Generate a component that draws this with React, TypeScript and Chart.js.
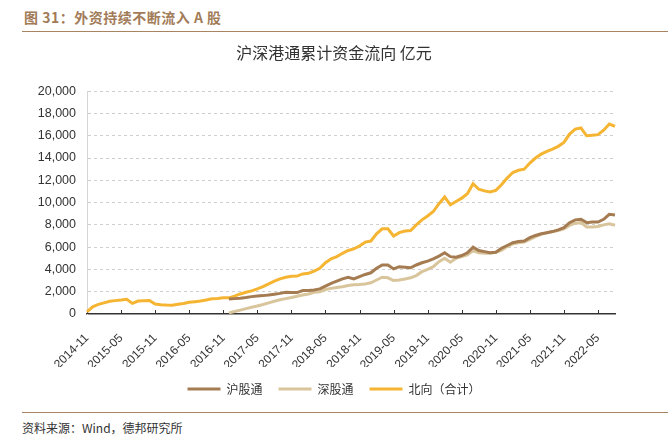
import { useEffect, useRef } from 'react';
import { Chart, registerables } from 'chart.js';

Chart.register(...registerables);

const CJK = "'Noto Sans CJK SC', 'Noto Sans', sans-serif";
const LAT = "'Liberation Sans', Arial, sans-serif";

const months = [
  '2014-11', '2014-12',
  '2015-01', '2015-02', '2015-03', '2015-04', '2015-05', '2015-06', '2015-07', '2015-08', '2015-09', '2015-10', '2015-11', '2015-12',
  '2016-01', '2016-02', '2016-03', '2016-04', '2016-05', '2016-06', '2016-07', '2016-08', '2016-09', '2016-10', '2016-11', '2016-12',
  '2017-01', '2017-02', '2017-03', '2017-04', '2017-05', '2017-06', '2017-07', '2017-08', '2017-09', '2017-10', '2017-11', '2017-12',
  '2018-01', '2018-02', '2018-03', '2018-04', '2018-05', '2018-06', '2018-07', '2018-08', '2018-09', '2018-10', '2018-11', '2018-12',
  '2019-01', '2019-02', '2019-03', '2019-04', '2019-05', '2019-06', '2019-07', '2019-08', '2019-09', '2019-10', '2019-11', '2019-12',
  '2020-01', '2020-02', '2020-03', '2020-04', '2020-05', '2020-06', '2020-07', '2020-08', '2020-09', '2020-10', '2020-11', '2020-12',
  '2021-01', '2021-02', '2021-03', '2021-04', '2021-05', '2021-06', '2021-07', '2021-08', '2021-09', '2021-10', '2021-11', '2021-12',
  '2022-01', '2022-02', '2022-03', '2022-04', '2022-05', '2022-06', '2022-07', '2022-08',
];

// 北向（合计）
const northbound = [
  200, 650,
  870, 1000, 1140, 1200, 1250, 1320, 950, 1160, 1200, 1220, 900, 840,
  800, 780, 870, 950, 1050, 1100, 1160, 1260, 1370, 1400, 1450, 1450,
  1600, 1800, 1950, 2080, 2250, 2450, 2700, 2950, 3150, 3300, 3380, 3400,
  3600, 3650, 3850, 4100, 4600, 4950, 5150, 5450, 5700, 5850, 6100, 6450,
  6550, 7200, 7650, 7650, 7000, 7300, 7450, 7500, 8000, 8450, 8800, 9200,
  9900, 10500, 9800, 10100, 10400, 10800, 11700, 11200, 11050, 10950, 11100, 11600,
  12200, 12700, 12900, 13000, 13550, 14000, 14350, 14600, 14800, 15050, 15400, 16150,
  16600, 16700, 16000, 16050, 16100, 16500, 17050, 16850,
];

// 沪股通
const shanghai = [
  null, null,
  null, null, null, null, null, null, null, null, null, null, null, null,
  null, null, null, null, null, null, null, null, null, null, null, 1350,
  1380, 1420, 1480, 1560, 1620, 1650, 1700, 1780, 1850, 1950, 1930, 1920,
  2100, 2100, 2150, 2250, 2500, 2750, 2950, 3150, 3300, 3150, 3350, 3550,
  3700, 4100, 4400, 4400, 4050, 4250, 4200, 4150, 4400, 4600, 4750, 4950,
  5200, 5500, 5150, 5100, 5250, 5500, 6000, 5700, 5600, 5500, 5550, 5900,
  6150, 6400, 6500, 6550, 6850, 7050, 7200, 7300, 7400, 7550, 7750, 8200,
  8450, 8500, 8200, 8250, 8250, 8500, 8950, 8880,
];

// 深股通
const shenzhen = [
  null, null,
  null, null, null, null, null, null, null, null, null, null, null, null,
  null, null, null, null, null, null, null, null, null, null, null, 100,
  220, 350, 480, 600, 720, 850, 1000, 1150, 1280, 1380, 1480, 1600,
  1700, 1800, 1950, 2000, 2200, 2300, 2380, 2450, 2550, 2620, 2650, 2700,
  2800, 3050, 3300, 3250, 3000, 3050, 3150, 3250, 3450, 3800, 4000, 4250,
  4700, 5000, 4650, 5000, 5150, 5300, 5700, 5500, 5450, 5450, 5550, 5700,
  6050, 6300, 6400, 6450, 6700, 6950, 7150, 7300, 7400, 7500, 7650, 7950,
  8150, 8200, 7800, 7800, 7850, 8000, 8100, 7970,
];

const seriesNames = ['沪股通', '深股通', '北向（合计）'];
const seriesColors = ['#A57C52', '#D9C59C', '#F5B533'];
const yMin = 0;
const yMax = 20000;
const yStep = 2000;
const xTickEvery = 6;

const innerTicks = {
  id: 'innerTicks',
  beforeDatasetsDraw(chart: any) {
    const xs = chart.scales.x;
    const ctx = chart.ctx;
    const bottom = chart.chartArea.bottom;
    ctx.save();
    ctx.strokeStyle = '#333';
    ctx.lineWidth = 1;
    xs.ticks.forEach((_t: any, i: number) => {
      const px = Math.round(xs.getPixelForTick(i)) + 0.5;
      ctx.beginPath();
      ctx.moveTo(px, bottom);
      ctx.lineTo(px, bottom - 4);
      ctx.stroke();
    });
    ctx.restore();
  },
};

export default function App() {
  const ref = useRef<HTMLCanvasElement | null>(null);

  useEffect(() => {
    if (!ref.current) return;
    const chart = new Chart(ref.current, {
      type: 'line',
      data: {
        labels: months,
        datasets: [
          { label: seriesNames[0], data: shanghai, borderColor: seriesColors[0], backgroundColor: seriesColors[0] },
          { label: seriesNames[1], data: shenzhen, borderColor: seriesColors[1], backgroundColor: seriesColors[1] },
          { label: seriesNames[2], data: northbound, borderColor: seriesColors[2], backgroundColor: seriesColors[2] },
        ].map((d) => ({ ...d, borderWidth: 3, pointRadius: 0, tension: 0, spanGaps: false, fill: false })),
      },
      options: {
        animation: false,
        responsive: false,
        layout: { padding: { left: 0, right: 0, top: 0, bottom: 5 } },
        plugins: {
          title: {
            display: true,
            text: '沪深港通累计资金流向 亿元',
            color: '#333',
            font: { family: CJK, size: 16, weight: 'normal' },
            padding: { top: 3, bottom: 29 },
          },
          legend: {
            position: 'bottom',
            labels: {
              boxWidth: 33,
              boxHeight: 3,
              padding: 16,
              color: '#333',
              font: { family: CJK, size: 12 },
              generateLabels: (c: any) =>
                Chart.defaults.plugins.legend.labels.generateLabels(c).map((l: any) => ({
                  ...l,
                  lineWidth: 0,
                  fillStyle: l.strokeStyle,
                })),
            },
          },
          tooltip: { enabled: false },
        },
        scales: {
          x: {
            type: 'category',
            grid: { display: false },
            border: { color: '#333', width: 1.5 },
            ticks: {
              autoSkip: false,
              maxRotation: 45,
              minRotation: 45,
              padding: 9,
              color: '#333',
              font: { family: LAT, size: 12 },
            },
            afterBuildTicks: (s: any) => {
              s.ticks = s.ticks.filter((t: any) => t.value % xTickEvery === 0);
            },
            afterFit: (s: any) => {
              s.height = 53;
            },
          },
          y: {
            min: yMin,
            max: yMax,
            ticks: {
              stepSize: yStep,
              padding: 11,
              color: '#333',
              font: { family: LAT, size: 12.5 },
            },
            grid: {
              drawTicks: false,
              color: (ctx: any) => (ctx.tick && ctx.tick.value === 0 ? 'rgba(0,0,0,0)' : '#cfcfcf'),
            },
            border: { color: '#d6d6d6', width: 1, dash: [3, 3] },
            afterFit: (s: any) => {
              s.width = 87;
            },
          },
          spacer: {
            type: 'linear',
            position: 'right',
            display: true,
            grid: { display: false, drawOnChartArea: false },
            border: { display: false },
            ticks: { display: false },
            afterFit: (s: any) => {
              s.width = 53;
            },
          },
        },
      },
      plugins: [innerTicks],
    } as any);
    return () => chart.destroy();
  }, []);

  return (
    <div
      style={{
        position: 'fixed',
        left: 0,
        top: 0,
        width: 668,
        height: 444,
        background: '#fff',
        overflow: 'hidden',
        fontFamily: CJK,
      }}
    >
      <div
        style={{
          position: 'absolute',
          left: 24,
          top: 7,
          fontSize: 14,
          lineHeight: '20px',
          fontWeight: 'bold',
          letterSpacing: '0.5px',
          color: '#A27C58',
          whiteSpace: 'nowrap',
        }}
      >
        图 31：外资持续不断流入 A 股
      </div>
      <div style={{ position: 'absolute', left: 22, top: 31, width: 646, height: 0, borderTop: '1.5px solid #A88461' }} />
      <canvas ref={ref} width={668} height={370} style={{ position: 'absolute', left: 0, top: 40, width: 668, height: 370 }} />
      <div style={{ position: 'absolute', left: 22, top: 412, width: 646, height: 0, borderTop: '1.5px solid #A88461' }} />
      <div
        style={{
          position: 'absolute',
          left: 22,
          top: 419,
          fontSize: 12,
          lineHeight: '18px',
          color: '#333',
          whiteSpace: 'nowrap',
        }}
      >
        资料来源：Wind，德邦研究所
      </div>
    </div>
  );
}
